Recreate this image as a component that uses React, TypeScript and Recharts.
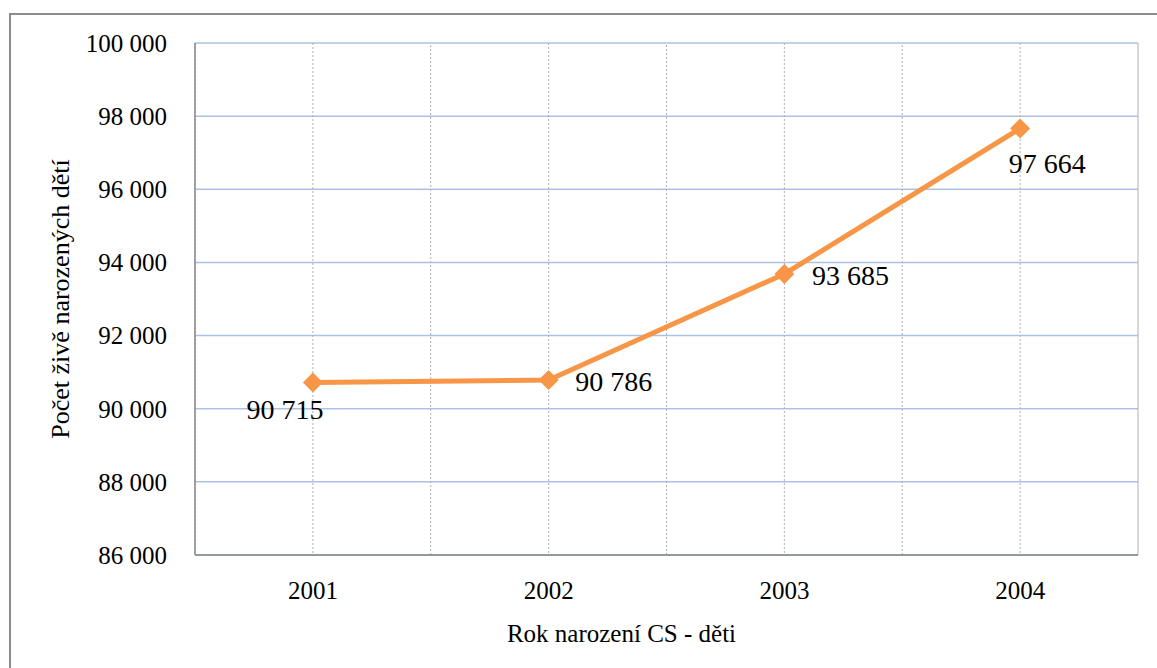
import React from "react";
import {
  LineChart,
  Line,
  XAxis,
  YAxis,
  CartesianGrid,
  ReferenceLine,
  LabelList,
} from "recharts";

const years = [2001, 2002, 2003, 2004];
const births = [90715, 90786, 93685, 97664];
const yTicks = [86000, 88000, 90000, 92000, 94000, 96000, 98000, 100000];
// band boundaries between the year categories (dotted grid)
const bandEdges = [2001.5, 2002.5, 2003.5, 2004.5];
// hand-placed label offsets, as in the original
const labelOffsets = [
  { dx: -28, dy: 26 },
  { dx: 65, dy: 1 },
  { dx: 66, dy: 1 },
  { dx: 27, dy: 35 },
];

const data = years.map((year, i) => ({ year, value: births[i] }));

const FONT = "Liberation Serif";
const ORANGE = "#f79646";

const fmt = (v: number) => v.toLocaleString("en-US").replace(/,/g, " ");

function Diamond(props: any) {
  const { cx, cy } = props;
  if (cx == null || cy == null) return null;
  const r = 10;
  return (
    <path
      d={`M${cx},${cy - r} L${cx + r},${cy} L${cx},${cy + r} L${cx - r},${cy} Z`}
      fill={ORANGE}
      stroke="none"
    />
  );
}

function ValueLabel(props: any) {
  const { x, y, value, index } = props;
  const off = labelOffsets[index] ?? { dx: 0, dy: 0 };
  return (
    <text
      x={x + off.dx}
      y={y + off.dy + 10}
      textAnchor="middle"
      fontFamily={FONT}
      fontSize={28}
      fill="#000"
    >
      {fmt(value)}
    </text>
  );
}

export default function App() {
  return (
    <div
      style={{
        position: "fixed",
        left: 0,
        top: 0,
        width: 1157,
        height: 668,
        background: "#fff",
        fontFamily: FONT,
      }}
    >
      <div
        style={{
          position: "absolute",
          left: 9,
          top: 13,
          width: 1170,
          height: 680,
          border: "2px solid #8c8c8c",
        }}
      />
      <div style={{ position: "absolute", left: 0, top: 0 }}>
        <LineChart
          width={1157}
          height={668}
          data={data}
          margin={{ top: 43, right: 19, left: 0, bottom: 0 }}
        >
          <CartesianGrid horizontal vertical={false} stroke="#abc2e5" strokeWidth={1.5} />
          <CartesianGrid horizontal={false} vertical stroke="#b0b0b0" strokeDasharray="2 2" />
          {bandEdges.map((e) => (
            <ReferenceLine key={e} x={e} stroke="#b0b0b0" strokeDasharray="2 2" />
          ))}
          <XAxis
            dataKey="year"
            type="number"
            domain={[2000.5, 2004.5]}
            ticks={years}
            tickLine={false}
            axisLine={{ stroke: "#868686", strokeWidth: 1.5 }}
            tick={{ fontFamily: FONT, fontSize: 25, fill: "#000" }}
            tickMargin={20}
            height={113}
            label={{
              value: "Rok narození CS - děti",
              position: "insideBottom",
              offset: 26,
              dx: -45,
              fontFamily: FONT,
              fontSize: 25,
              fill: "#000",
            }}
          />
          <YAxis
            domain={[86000, 100000]}
            ticks={yTicks}
            tickFormatter={fmt}
            tickLine={false}
            axisLine={{ stroke: "#868686", strokeWidth: 1.5 }}
            tick={{ fontFamily: FONT, fontSize: 25, fill: "#000" }}
            tickMargin={22}
            width={195}
            label={{
              value: "Počet živě narozených dětí",
              angle: -90,
              position: "insideLeft",
              offset: 60,
              fontFamily: FONT,
              fontSize: 26,
              fill: "#000",
              style: { textAnchor: "middle" },
            }}
          />
          <Line
            type="linear"
            dataKey="value"
            stroke={ORANGE}
            strokeWidth={5}
            dot={<Diamond />}
            activeDot={false}
            isAnimationActive={false}
          >
            <LabelList dataKey="value" content={<ValueLabel />} />
          </Line>
        </LineChart>
      </div>
    </div>
  );
}
